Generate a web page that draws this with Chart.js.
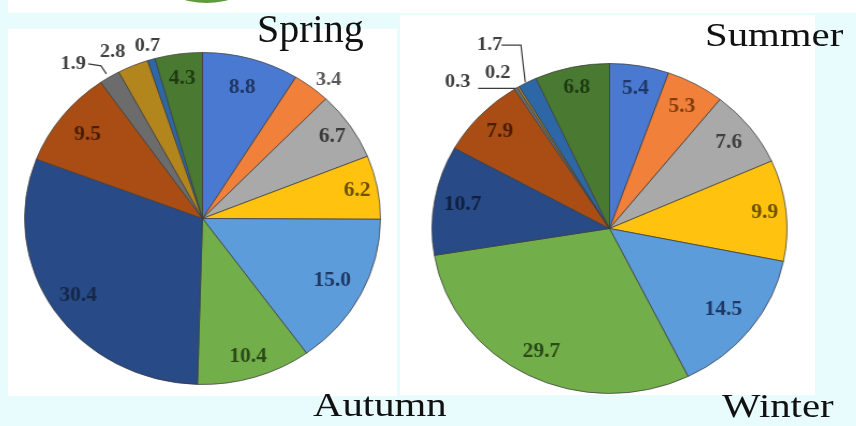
<!DOCTYPE html>
<html>
<head>
<meta charset="utf-8">
<script src="https://cdn.jsdelivr.net/npm/chart.js@4/dist/chart.umd.min.js"></script>
<style>
  html, body { margin: 0; padding: 0; }
  body { width: 856px; height: 426px; position: relative; overflow: hidden; background: #e9fcfd; }
  .panel { position: absolute; background: #ffffff; }
  .title { position: absolute; font-family: "Liberation Serif", "Times New Roman", serif; color: #111; line-height: 1; white-space: nowrap; transform-origin: 0 0; }
  .pie { position: absolute; }
  .pie canvas { display: block; }
</style>
</head>
<body>
<div class="panel" style="left:8px; top:0; width:848px; height:13px;"></div>
<div style="position:absolute; left:163px; top:-42px; width:87px; height:45px; border-radius:50%; background:#5e9b3c;"></div>
<div class="panel" style="left:8px; top:29px; width:389px; height:367px;"></div>
<div class="panel" style="left:400px; top:15px; width:415px; height:380px;"></div>

<div class="pie" style="left:-4.5px; top:11.5px; transform:scaleX(1.072);"><canvas id="pieA" width="413" height="413"></canvas></div>
<div class="pie" style="left:403.5px; top:22.5px; transform:scaleX(1.076);"><canvas id="pieB" width="411" height="411"></canvas></div>

<div class="title" style="left:257px; top:8.5px; font-size:40px;">Spring</div>
<div class="title" style="left:705px; top:17.5px; font-size:34px; transform:scaleX(1.2);">Summer</div>
<div class="title" style="left:313px; top:387.5px; font-size:34px; transform:scaleX(1.2);">Autumn</div>
<div class="title" style="left:722px; top:388.5px; font-size:34px; transform:scaleX(1.2);">Winter</div>

<script>
// Twelve components shared by both pies, clockwise from 12 o'clock
const categories = ['C1', 'C2', 'C3', 'C4', 'C5', 'C6', 'C7', 'C8', 'C9', 'C10', 'C11', 'C12'];
const pieAValues = [8.8, 3.4, 6.7, 6.2, 15.0, 10.4, 30.4, 9.5, 1.9, 2.8, 0.7, 4.3];
const pieBValues = [5.4, 5.3, 7.6, 9.9, 14.5, 29.7, 10.7, 7.9, 0.3, 0.2, 1.7, 6.8];

const sliceColors = ['#4a79d2', '#f0803a', '#a9a9a9', '#ffc20e', '#5d9cdb', '#72af4a',
                     '#284a86', '#a94d14', '#6c6c6c', '#b2861c', '#2d67a5', '#4a7a31'];

// Label layout: radial factor (f) for inside labels; for outside labels an offset
// (ox, oy) from the slice's outer midpoint plus an optional leader polyline.
const labelStyleA = [
  { f: 0.82, color: '#1f3864' },
  { out: true, ox: 16, oy: -7, color: '#595959' },
  { f: 0.88, color: '#3a3a3a' },
  { f: 0.885, color: '#6b5100' },
  { f: 0.82, color: '#1f3864' },
  { f: 0.87, color: '#2b4a18' },
  { f: 0.84, color: '#16284a' },
  { f: 0.82, color: '#4a1e05' },
  { out: true, ox: -34, oy: -13, color: '#404040', leader: [[-20, -13], [-8, -11], [-3, -3]] },
  { out: true, ox: -19, oy: -14, color: '#404040' },
  { out: true, ox: -3.5, oy: -13, color: '#404040' },
  { f: 0.85, color: '#1e3b12' }
];
const labelStyleB = [
  { f: 0.86, color: '#1f3864' },
  { f: 0.84, color: '#843c0c' },
  { f: 0.85, color: '#404040' },
  { f: 0.88, color: '#6b5100' },
  { f: 0.81, color: '#1f3864' },
  { f: 0.84, color: '#2b4a18' },
  { f: 0.84, color: '#0f1f40' },
  { f: 0.85, color: '#4a1e05' },
  { out: true, ox: -54, oy: -6, color: '#404040', leader: [[-35, 0], [0, 0]] },
  { out: true, ox: -19, oy: -14, color: '#404040' },
  { out: true, ox: -35, oy: -37, color: '#404040', leader: [[-24, -37], [-6, -37], [-2, 0]] },
  { f: 0.87, color: '#1e3b12' }
];

const sliceLabels = {
  id: 'sliceLabels',
  afterDatasetsDraw(chart, args, opts) {
    const ctx = chart.ctx;
    const meta = chart.getDatasetMeta(0);
    const values = chart.data.datasets[0].data;
    ctx.save();
    ctx.textAlign = 'center';
    ctx.textBaseline = 'middle';
    meta.data.forEach((arc, i) => {
      const st = opts.styles[i];
      const p = arc.getProps(['x', 'y', 'startAngle', 'endAngle', 'outerRadius'], true);
      const mid = (p.startAngle + p.endAngle) / 2;
      let x, y;
      if (st.out) {
        const ex = p.x + Math.cos(mid) * p.outerRadius;
        const ey = p.y + Math.sin(mid) * p.outerRadius;
        x = ex + st.ox;
        y = ey + st.oy;
        if (st.leader) {
          ctx.strokeStyle = '#3c3c3c';
          ctx.lineWidth = 1.2;
          ctx.beginPath();
          st.leader.forEach((pt, k) => {
            const lx = ex + pt[0], ly = ey + pt[1];
            if (k === 0) ctx.moveTo(lx, ly); else ctx.lineTo(lx, ly);
          });
          ctx.stroke();
        }
        ctx.font = 'bold 19px "Liberation Serif", "Times New Roman", serif';
      } else {
        const r = p.outerRadius * st.f;
        x = p.x + Math.cos(mid) * r;
        y = p.y + Math.sin(mid) * r;
        ctx.font = 'bold 20px "Liberation Serif", "Times New Roman", serif';
      }
      ctx.fillStyle = st.color;
      ctx.fillText(values[i].toFixed(1), x, y);
    });
    ctx.restore();
  }
};

function makePie(id, values, styles) {
  return new Chart(document.getElementById(id), {
    type: 'pie',
    data: {
      labels: categories,
      datasets: [{
        data: values,
        backgroundColor: sliceColors,
        borderColor: 'rgba(60,60,60,0.75)',
        borderWidth: 1,
        hoverOffset: 0
      }]
    },
    options: {
      responsive: false,
      devicePixelRatio: 1,
      animation: false,
      layout: { padding: 40 },
      plugins: {
        legend: { display: false },
        tooltip: { enabled: false },
        sliceLabels: { styles: styles }
      }
    },
    plugins: [sliceLabels]
  });
}

makePie('pieA', pieAValues, labelStyleA);
makePie('pieB', pieBValues, labelStyleB);
</script>
</body>
</html>
